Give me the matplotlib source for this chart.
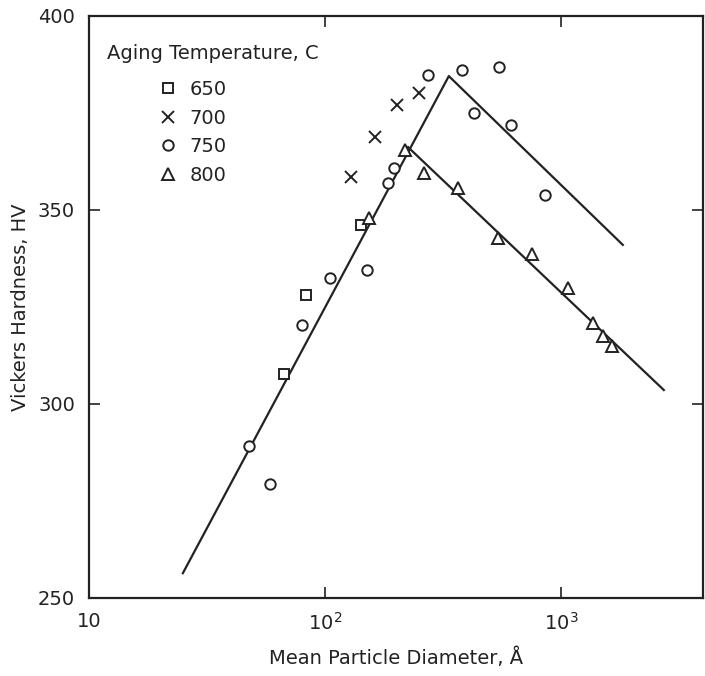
import matplotlib.pyplot as plt

plt.rcParams['font.family'] = ['Liberation Sans Narrow', 'DejaVu Sans']

# data
d650 = [67, 83, 142]
hv650 = [307.7, 328.1, 346.1]

d700 = [129, 163, 202, 250]
hv700 = [358.5, 368.8, 377.1, 380.2]

d750 = [47.6, 58.5, 80, 105, 151, 185, 196, 273, 381, 546, 428, 614, 855]
hv750 = [289.2, 279.4, 320.4, 332.5, 334.5, 357.0, 360.8, 384.8, 386.1, 386.9, 375.0, 371.9, 353.9]

d800 = [154, 218, 263, 366, 541, 754, 1071, 1367, 1506, 1645]
hv800 = [347.9, 365.5, 359.5, 355.7, 342.8, 338.7, 329.9, 320.9, 317.5, 315.0]

# fitted lines
upper_d = [25, 335, 1830]
upper_hv = [256.4, 384.5, 341.0]
lower_d = [225, 2730]
lower_hv = [366.2, 303.6]

fig = plt.figure(figsize=(7.05, 6.76), dpi=100)
ax = fig.add_axes([0.1262, 0.1154, 0.8709, 0.861])

ax.plot(upper_d, upper_hv, color='#222222', lw=1.6, zorder=2)
ax.plot(lower_d, lower_hv, color='#222222', lw=1.6, zorder=2)

mk = dict(linestyle='none', mfc='white', mec='#222222', mew=1.4, zorder=3)
ax.plot(d650, hv650, marker='s', ms=7, label='650', **mk)
ax.plot(d700, hv700, marker='x', ms=9, label='700', **mk)
ax.plot(d750, hv750, marker='o', ms=7.5, label='750', **mk)
ax.plot(d800, hv800, marker='^', ms=8.5, label='800', **mk)

ax.set_xscale('log')
ax.set_xlim(10, 4000)
ax.set_ylim(250, 400)
ax.set_xticks([10, 100, 1000])
ax.set_xticklabels(['10', '10$^2$', '10$^3$'])
ax.minorticks_off()
ax.set_yticks([250, 300, 350, 400])
ax.tick_params(direction='in', top=True, right=True, length=8, width=1.2,
               labelsize=14, colors='#222222', pad=10)

for s in ax.spines.values():
    s.set_linewidth(1.6)
    s.set_color('#222222')

ax.set_xlabel('Mean Particle Diameter, Å', fontsize=14, color='#222222', labelpad=10)
ax.set_ylabel('Vickers Hardness, HV', fontsize=14, color='#222222', labelpad=6)

ax.text(0.03, 0.935, 'Aging Temperature, C', transform=ax.transAxes,
        fontsize=14, color='#222222', va='center')
ax.legend(loc='upper left', bbox_to_anchor=(0.0935, 0.907), frameon=False,
          fontsize=14, handletextpad=0.5, labelspacing=0.5, borderpad=0,
          handlelength=1.2, labelcolor='#222222')

fig.savefig('out.png', dpi=100)
